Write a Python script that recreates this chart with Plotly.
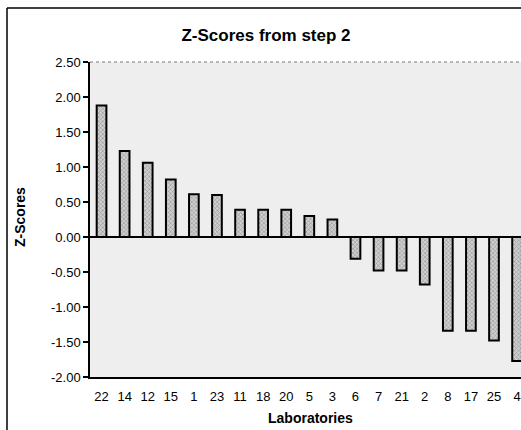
import plotly.graph_objects as go

laboratories = ["22", "14", "12", "15", "1", "23", "11", "18", "20", "5",
                "3", "6", "7", "21", "2", "8", "17", "25", "4"]
z_scores = [1.88, 1.23, 1.06, 0.82, 0.61, 0.60, 0.39, 0.39, 0.39, 0.30,
            0.25, -0.31, -0.48, -0.48, -0.68, -1.34, -1.34, -1.48, -1.77]
y_tick_vals = [2.5, 2.0, 1.5, 1.0, 0.5, 0.0, -0.5, -1.0, -1.5, -2.0]
y_tick_text = ["2.50", "2.00", "1.50", "1.00", "0.50", "0.00",
               "-0.50", "-1.00", "-1.50", "-2.00"]

W, H = 521, 430
L, T, B = 90, 62, 377
pw = W - L
ph = B - T

def px(x):
    return (x - L) / pw

def py(y):
    return (B - y) / ph

FONT = "Liberation Sans, Arial, sans-serif"

fig = go.Figure()
fig.add_trace(go.Bar(
    x=laboratories, y=z_scores, width=0.42,
    marker=dict(color="#b0b0b0",
                line=dict(color="black", width=2),
                pattern=dict(shape="x", size=3, fgcolor="#505050",
                             bgcolor="#d0d0d0", solidity=0.35)),
    showlegend=False,
))

fig.update_layout(
    width=W, height=H,
    margin=dict(l=L, r=0, t=T, b=H - B),
    paper_bgcolor="white", plot_bgcolor="#eeeeee",
    font=dict(family=FONT, size=13, color="black"),
    title=dict(text="<b>Z-Scores from step 2</b>", x=266 / W, xref="container",
               xanchor="center", y=1 - 35 / H, yref="container", yanchor="middle",
               font=dict(family=FONT, size=17, color="black")),
    xaxis=dict(type="category", range=[-0.5, 18.17], showline=True,
               linecolor="black", linewidth=1.5, ticks="", showgrid=False,
               ticklabelstandoff=7, tickfont=dict(size=13)),
    yaxis=dict(range=[-2.0, 2.5], tickvals=y_tick_vals, ticktext=y_tick_text,
               showline=True, linecolor="black", linewidth=1.5, ticks="outside",
               ticklen=5, tickwidth=1.5, tickcolor="black", showgrid=False,
               zeroline=True, zerolinecolor="black", zerolinewidth=1.5,
               tickfont=dict(size=13)),
    shapes=[
        dict(type="line", xref="paper", yref="paper", x0=0, x1=1, y0=1, y1=1,
             line=dict(color="#777777", width=1, dash="dot")),
        dict(type="line", xref="paper", yref="paper", x0=px(7), x1=px(7),
             y0=py(8), y1=py(440), line=dict(color="black", width=1.5)),
        dict(type="line", xref="paper", yref="paper", x0=px(7), x1=px(530),
             y0=py(8), y1=py(8), line=dict(color="black", width=1.5)),
    ],
    annotations=[
        dict(text="<b>Z-Scores</b>", xref="paper", yref="paper", x=px(20), y=py(217),
             textangle=-90, showarrow=False, xanchor="center", yanchor="middle",
             font=dict(family=FONT, size=14, color="black")),
        dict(text="<b>Laboratories</b>", xref="paper", yref="paper", x=px(310), y=py(418),
             showarrow=False, xanchor="center", yanchor="middle",
             font=dict(family=FONT, size=14, color="black")),
    ],
)

fig.write_html("out.html")
